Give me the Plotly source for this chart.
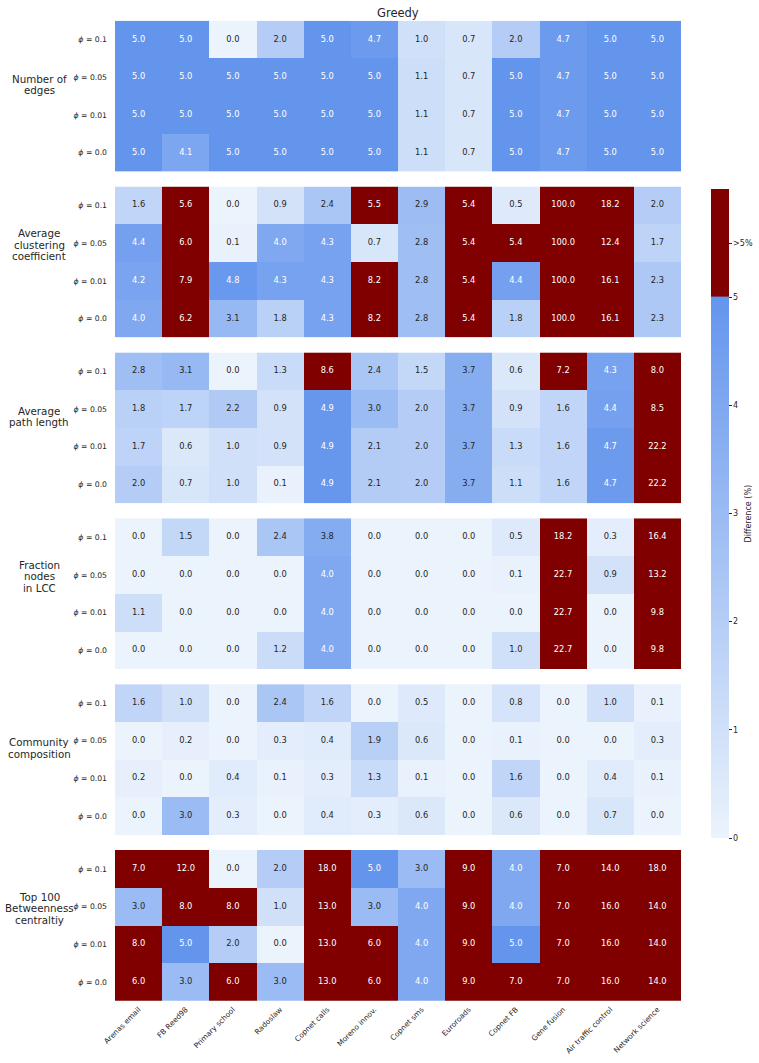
import plotly.graph_objects as go

networks = ["Arenas email", "FB Reed98", "Primary school", "Radoslaw", "Copnet calls",
            "Moreno innov.", "Copnet sms", "Euroroads", "Copnet FB", "Gene fusion",
            "Air traffic control", "Network science"]
phi_values = ["0.1", "0.05", "0.01", "0.0"]

metric_names = [
    ["Number of", "edges"],
    ["Average", "clustering", "coefficient"],
    ["Average", "path length"],
    ["Fraction", "nodes", "in LCC"],
    ["Community", "composition"],
    ["Top 100", "Betweenness", "centraltiy"],
]

number_of_edges = [
    [5.0, 5.0, 0.0, 2.0, 5.0, 4.7, 1.0, 0.7, 2.0, 4.7, 5.0, 5.0],
    [5.0, 5.0, 5.0, 5.0, 5.0, 5.0, 1.1, 0.7, 5.0, 4.7, 5.0, 5.0],
    [5.0, 5.0, 5.0, 5.0, 5.0, 5.0, 1.1, 0.7, 5.0, 4.7, 5.0, 5.0],
    [5.0, 4.1, 5.0, 5.0, 5.0, 5.0, 1.1, 0.7, 5.0, 4.7, 5.0, 5.0],
]
avg_clustering = [
    [1.6, 5.6, 0.0, 0.9, 2.4, 5.5, 2.9, 5.4, 0.5, 100.0, 18.2, 2.0],
    [4.4, 6.0, 0.1, 4.0, 4.3, 0.7, 2.8, 5.4, 5.4, 100.0, 12.4, 1.7],
    [4.2, 7.9, 4.8, 4.3, 4.3, 8.2, 2.8, 5.4, 4.4, 100.0, 16.1, 2.3],
    [4.0, 6.2, 3.1, 1.8, 4.3, 8.2, 2.8, 5.4, 1.8, 100.0, 16.1, 2.3],
]
avg_path_length = [
    [2.8, 3.1, 0.0, 1.3, 8.6, 2.4, 1.5, 3.7, 0.6, 7.2, 4.3, 8.0],
    [1.8, 1.7, 2.2, 0.9, 4.9, 3.0, 2.0, 3.7, 0.9, 1.6, 4.4, 8.5],
    [1.7, 0.6, 1.0, 0.9, 4.9, 2.1, 2.0, 3.7, 1.3, 1.6, 4.7, 22.2],
    [2.0, 0.7, 1.0, 0.1, 4.9, 2.1, 2.0, 3.7, 1.1, 1.6, 4.7, 22.2],
]
fraction_lcc = [
    [0.0, 1.5, 0.0, 2.4, 3.8, 0.0, 0.0, 0.0, 0.5, 18.2, 0.3, 16.4],
    [0.0, 0.0, 0.0, 0.0, 4.0, 0.0, 0.0, 0.0, 0.1, 22.7, 0.9, 13.2],
    [1.1, 0.0, 0.0, 0.0, 4.0, 0.0, 0.0, 0.0, 0.0, 22.7, 0.0, 9.8],
    [0.0, 0.0, 0.0, 1.2, 4.0, 0.0, 0.0, 0.0, 1.0, 22.7, 0.0, 9.8],
]
community = [
    [1.6, 1.0, 0.0, 2.4, 1.6, 0.0, 0.5, 0.0, 0.8, 0.0, 1.0, 0.1],
    [0.0, 0.2, 0.0, 0.3, 0.4, 1.9, 0.6, 0.0, 0.1, 0.0, 0.0, 0.3],
    [0.2, 0.0, 0.4, 0.1, 0.3, 1.3, 0.1, 0.0, 1.6, 0.0, 0.4, 0.1],
    [0.0, 3.0, 0.3, 0.0, 0.4, 0.3, 0.6, 0.0, 0.6, 0.0, 0.7, 0.0],
]
betweenness = [
    [7.0, 12.0, 0.0, 2.0, 18.0, 5.0, 3.0, 9.0, 4.0, 7.0, 14.0, 18.0],
    [3.0, 8.0, 8.0, 1.0, 13.0, 3.0, 4.0, 9.0, 4.0, 7.0, 16.0, 14.0],
    [8.0, 5.0, 2.0, 0.0, 13.0, 6.0, 4.0, 9.0, 5.0, 7.0, 16.0, 14.0],
    [6.0, 3.0, 6.0, 3.0, 13.0, 6.0, 4.0, 9.0, 7.0, 7.0, 16.0, 14.0],
]
panels = [number_of_edges, avg_clustering, avg_path_length, fraction_lcc, community, betweenness]

W, H = 759, 1063
X0, X1 = 115, 681
TOP0, STEP, PH = 20.7, 165.86, 150.8
LIGHT = "rgb(235,243,252)"
BLUE = "rgb(100,149,237)"
RED = "rgb(128,0,0)"
DARK = "#262626"
FONT = "DejaVu Sans"

fig = go.Figure()
cols = list(range(len(networks)))
rows = list(range(len(phi_values)))

annotations = []
for k, data in enumerate(panels):
    sfx = "" if k == 0 else str(k + 1)
    xa, ya = "x" + sfx, "y" + sfx
    fig.add_trace(go.Heatmap(z=data, x=cols, y=rows, coloraxis="coloraxis",
                             xaxis=xa, yaxis=ya, hoverinfo="skip"))
    tx, ty, tt, tc = [], [], [], []
    for r in rows:
        for c in cols:
            v = data[r][c]
            tx.append(c); ty.append(r); tt.append(f"{v:.1f}")
            tc.append("white" if v >= 3.9 else DARK)
    fig.add_trace(go.Scatter(x=tx, y=ty, text=tt, mode="text", xaxis=xa, yaxis=ya,
                             textfont=dict(family=FONT, size=8.3, color=tc),
                             hoverinfo="skip", showlegend=False))
    top = TOP0 + k * STEP
    dom = [1 - (top + PH) / H, 1 - top / H]
    last = k == len(panels) - 1
    fig.layout["xaxis" + sfx] = dict(domain=[X0 / W, X1 / W], range=[-0.5, 11.5],
                                     anchor=ya, tickvals=cols, ticktext=networks,
                                     showticklabels=last, tickangle=-45, ticks="",
                                     ticklabelstandoff=2,
                                     showgrid=False, zeroline=False, showline=False,
                                     tickfont=dict(family=FONT, size=7.4, color=DARK),
                                     automargin=False)
    fig.layout["yaxis" + sfx] = dict(domain=dom, range=[3.5, -0.5], anchor=xa,
                                     tickvals=rows,
                                     ticktext=[f"<i>ϕ</i> = {p}" for p in phi_values],
                                     ticks="", ticklabelstandoff=7,
                                     showgrid=False, zeroline=False, showline=False,
                                     tickfont=dict(family=FONT, size=7.7, color=DARK),
                                     automargin=False)
    lines = metric_names[k]
    n = len(lines)
    row1_px = top + PH * 1.5 / 4
    first = row1_px + (7.5 if n == 2 else 1.5) - (n - 1) / 2 * 11.5
    for i, line in enumerate(lines):
        ypx = first + i * 11.5
        annotations.append(dict(text=line, x=39 / W, y=1 - ypx / H, xref="paper",
                                yref="paper", xanchor="center", yanchor="middle",
                                showarrow=False,
                                font=dict(family=FONT, size=10.3, color=DARK)))

annotations.append(dict(text="Greedy", x=(X0 + X1) / 2 / W, y=1 - 12.5 / H,
                        xref="paper", yref="paper", xanchor="center", yanchor="middle",
                        showarrow=False, font=dict(family=FONT, size=11.5, color=DARK)))

CB_TOP, CB_BOT = 189, 838
annotations.append(dict(text="Difference (%)", x=748 / W, y=1 - (CB_TOP + CB_BOT) / 2 / H,
                        xref="paper", yref="paper", xanchor="center", yanchor="middle",
                        textangle=-90, showarrow=False,
                        font=dict(family=FONT, size=8, color=DARK)))

fig.update_layout(
    width=W, height=H, autosize=False,
    margin=dict(l=0, r=0, t=0, b=0, pad=0),
    paper_bgcolor="white", plot_bgcolor="white",
    showlegend=False,
    annotations=annotations,
    coloraxis=dict(
        cmin=0, cmax=6,
        colorscale=[[0, LIGHT], [5 / 6, BLUE], [5.01 / 6, RED], [1, RED]],
        colorbar=dict(
            x=711 / W, xanchor="left", xref="paper",
            y=1 - CB_TOP / H, yanchor="top", yref="paper",
            len=(CB_BOT - CB_TOP) / H, lenmode="fraction",
            thickness=18, thicknessmode="pixels",
            xpad=0, ypad=0, outlinewidth=0,
            tickvals=[0, 1, 2, 3, 4, 5, 5.5],
            ticktext=["0", "1", "2", "3", "4", "5", ">5%"],
            ticks="outside", ticklen=3, tickcolor=DARK, tickwidth=0.8,
            tickfont=dict(family=FONT, size=8, color=DARK),
        ),
    ),
)

fig.write_html("out.html")
